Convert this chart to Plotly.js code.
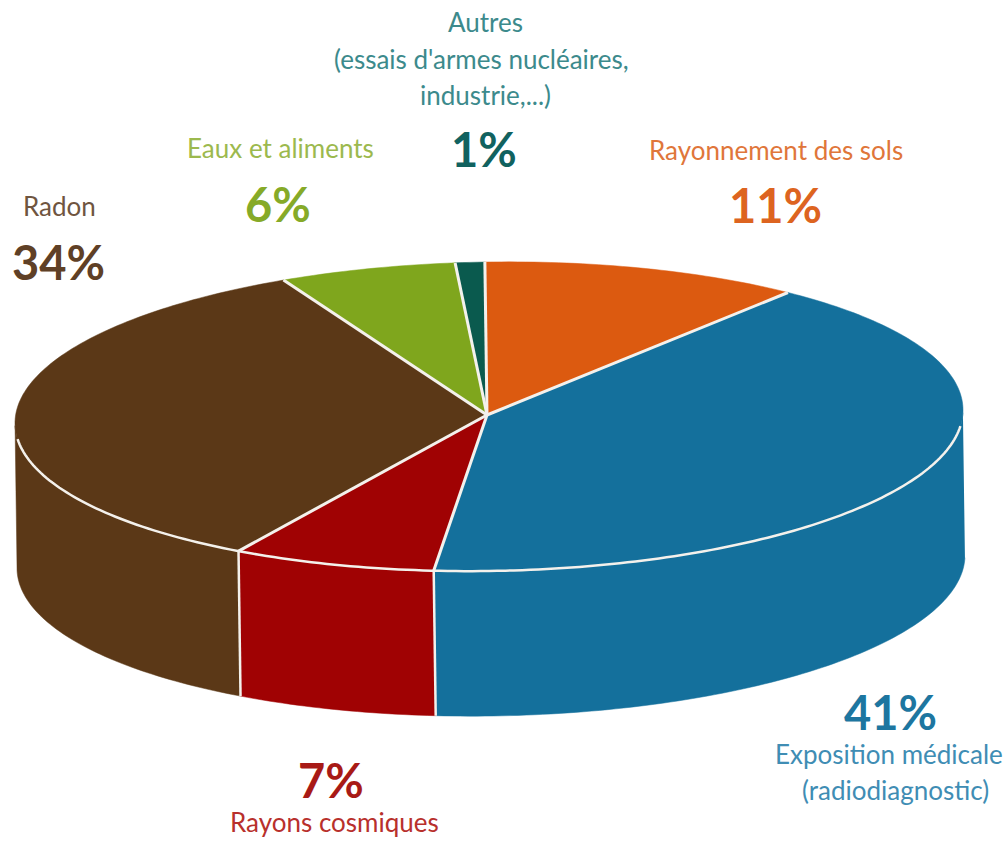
<!DOCTYPE html>
<html lang="fr">
<head>
<meta charset="utf-8">
<title>Exposition aux rayonnements</title>
<script src="https://cdn.plot.ly/plotly-3.0.1.min.js"></script>
<style>html,body{margin:0;padding:0;background:#fff}#chart{width:1008px;height:843px}</style>
</head>
<body>
<div id="chart"></div>
<script>
// Sources d'exposition, dans le sens horaire depuis midi
const categories = ["Rayonnement des sols", "Exposition médicale", "Rayons cosmiques", "Radon", "Eaux et aliments", "Autres"];
const shares = [11, 41, 7, 34, 6, 1];
const sliceColors = ["#dc5a10", "#14709c", "#a00203", "#5b3817", "#7fa61d", "#0a5a4e"];
const textColors = ["#e0763a", "#3f8db4", "#b8302c", "#6f5540", "#9cb94e", "#3c8a8c"];
const pctColors = ["#dd6420", "#1d76a0", "#a81a16", "#5f4026", "#86aa28", "#11625f"];

// Libellés : lignes de texte et position de chacune
const nameLines = [
  ["Rayonnement des sols"],
  ["Exposition médicale", "(radiodiagnostic)"],
  ["Rayons cosmiques"],
  ["Radon"],
  ["Eaux et aliments"],
  ["Autres", "(essais d'armes nucléaires,", "industrie,...)"]
];
const nameX = [[776], [889, 895], [334], [59], [280], [485, 481, 485]];
const nameY = [[150], [754, 790], [822], [206], [148], [22, 59, 95]];
const pctX = [775, 890, 331, 58, 278, 484];
const pctY = [205, 712, 780, 262, 204, 149];

// Géométrie du disque en perspective
const cx = 489, cy = 416.5, rx = 474, ry = 154.5, skew = 0.0137;
const depth = 145, depthDx = 2, startAngle = -0.5;

const topPt = deg => {
  const a = deg * Math.PI / 180;
  return [cx + rx * Math.sin(a), cy - ry * Math.cos(a) - skew * rx * Math.sin(a)];
};
const arc = (from, to, dx = 0, dy = 0) => {
  const n = Math.max(2, Math.ceil(Math.abs(to - from)));
  const pts = [];
  for (let i = 0; i <= n; i++) {
    const p = topPt(from + (to - from) * i / n);
    pts.push([p[0] + dx, p[1] + dy]);
  }
  return pts;
};
const lineTrace = (pts, width) => ({
  x: pts.map(p => p[0]), y: pts.map(p => p[1]), mode: "lines",
  line: {color: "#f4f1ec", width: width, simplify: false}, hoverinfo: "skip", showlegend: false
});
const fillTrace = (pts, color, name) => ({
  x: pts.map(p => p[0]), y: pts.map(p => p[1]), mode: "lines", fill: "toself",
  fillcolor: color, line: {color: color, width: 0.5, simplify: false},
  name: name, hoverinfo: "name", showlegend: false
});

const apex = [487, 415];
const walls = [], tops = [], seams = [];
let start = startAngle;
shares.forEach((share, i) => {
  const end = start + share * 3.6;
  tops.push(fillTrace([apex, ...arc(start, end), apex], sliceColors[i], categories[i]));
  seams.push(lineTrace([apex, topPt(start)], 3));
  // La paroi n'est visible que sur la moitié avant du disque
  const wFrom = Math.max(start, 91), wTo = Math.min(end, 269);
  if (wTo > wFrom) {
    walls.push(fillTrace([...arc(wFrom, wTo), ...arc(wTo, wFrom, depthDx, depth)], sliceColors[i], categories[i]));
  }
  if (start > 90 && start < 270) {
    const p = topPt(start);
    seams.push(lineTrace([p, [p[0] + depthDx, p[1] + depth]], 2.5));
  }
  start = end;
});
const rim = lineTrace(arc(96, 264), 2.5);

const annotations = [];
nameLines.forEach((lines, i) => {
  lines.forEach((text, j) => annotations.push({
    x: nameX[i][j], y: nameY[i][j], xref: "x", yref: "y", text: text, showarrow: false,
    xanchor: "center", yanchor: "middle",
    font: {family: "Lato, sans-serif", size: 26, color: textColors[i]}
  }));
  annotations.push({
    x: pctX[i], y: pctY[i], xref: "x", yref: "y", text: shares[i] + "%", showarrow: false,
    xanchor: "center", yanchor: "middle",
    font: {family: "Lato, sans-serif", size: 47, weight: 700, color: pctColors[i]}
  });
});

const hidden = {visible: false, fixedrange: true, showgrid: false, zeroline: false};
Plotly.newPlot("chart", [...walls, ...tops, ...seams, rim], {
  width: 1008, height: 843,
  margin: {l: 0, r: 0, t: 0, b: 0},
  paper_bgcolor: "#ffffff", plot_bgcolor: "#ffffff",
  showlegend: false,
  xaxis: {...hidden, range: [0, 1008]},
  yaxis: {...hidden, range: [843, 0]},
  annotations: annotations
}, {displayModeBar: false, staticPlot: true});
</script>
</body>
</html>
